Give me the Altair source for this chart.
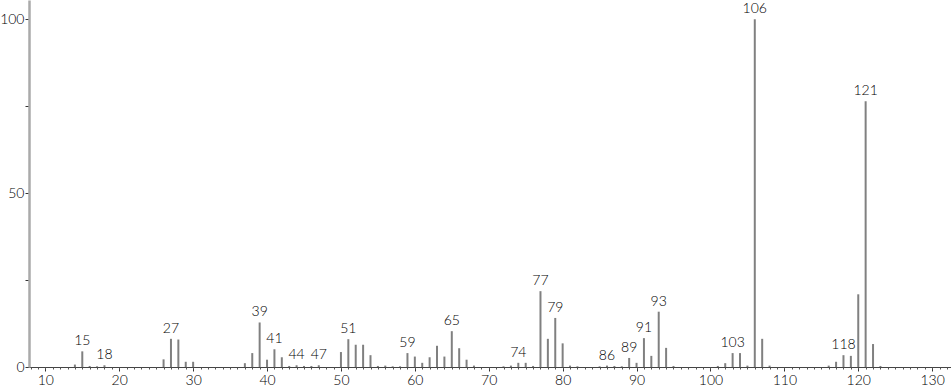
import altair as alt
import pandas as pd

mz = [14, 15, 16, 17, 18, 26, 27, 28, 29, 30, 37, 38, 39, 40, 41, 42, 43, 44, 45, 46, 47,
      50, 51, 52, 53, 54, 55, 56, 57, 58, 59, 60, 61, 62, 63, 64, 65, 66, 67, 68,
      72, 73, 74, 75, 76, 77, 78, 79, 80, 81, 82, 85, 86, 87, 88, 89, 90, 91, 92, 93, 94, 95,
      101, 102, 103, 104, 105, 106, 107, 108, 116, 117, 118, 119, 120, 121, 122, 123]
intensity = [0.7, 4.5, 0.3, 0.2, 0.5, 2.2, 8.1, 7.9, 1.5, 1.5, 1.1, 4.0, 12.8, 2.1, 5.1, 2.8, 0.3, 0.5, 0.3, 0.3, 0.5,
             4.3, 8.0, 6.4, 6.4, 3.4, 0.3, 0.4, 0.2, 0.2, 4.0, 3.0, 1.2, 2.8, 6.1, 3.0, 10.3, 5.4, 2.1, 0.4,
             0.2, 0.4, 1.2, 1.2, 0.3, 21.8, 8.1, 14.1, 6.8, 0.4, 0.2, 0.2, 0.4, 0.3, 0.2, 2.6, 1.2, 8.3, 3.2, 15.9, 5.5, 0.3,
             0.3, 1.1, 4.0, 4.0, 0.4, 100.0, 8.1, 0.4, 0.4, 1.5, 3.4, 3.2, 20.9, 76.4, 6.6, 0.3]
labeled = [15, 18, 27, 39, 41, 44, 47, 51, 59, 65, 74, 77, 79, 86, 89, 91, 93, 103, 106, 118, 121]
major_ticks = list(range(10, 131, 10))
minor_ticks = list(range(8, 133, 1))
y_ticks = [0, 25, 50, 75, 100]

df = pd.DataFrame({"mz": mz, "intensity": intensity})
df["label"] = [str(m) if m in labeled else "" for m in mz]
minor_df = pd.DataFrame({"mz": minor_ticks})

FONT = "Lato"
xscale = alt.Scale(domain=[7.79, 132.55], nice=False, zero=False)
yscale = alt.Scale(domain=[0, 105.5], nice=False, zero=True)
yaxis = alt.Axis(values=y_ticks, title=None, grid=False, tickSize=4,
                 labelExpr="datum.value % 50 == 0 ? datum.label : ''",
                 tickColor="#333", domainColor="#aaaaaa", domainWidth=2.5,
                 labelFont=FONT, labelFontSize=14, labelFontWeight=300,
                 labelColor="#000", labelPadding=1)

bars = alt.Chart(df).mark_rule(color="#808080", strokeWidth=2).encode(
    x=alt.X("mz:Q", scale=xscale,
            axis=alt.Axis(values=major_ticks, title=None, grid=False, tickSize=4,
                          orient="bottom",
                          tickColor="#333", domainColor="#444", labelFont=FONT,
                          labelFontSize=14, labelFontWeight=300, labelColor="#000",
                          labelPadding=2, labelFlush=False, domainWidth=1)),
    y=alt.Y("intensity:Q", scale=yscale, axis=yaxis),
    y2=alt.datum(0),
)

labels = alt.Chart(df).transform_filter("datum.label != ''").mark_text(
    font=FONT, fontSize=14, fontWeight=300, color="#000", baseline="bottom", dy=-3
).encode(
    x=alt.X("mz:Q", scale=xscale, axis=None),
    y=alt.Y("intensity:Q", scale=yscale, axis=yaxis),
    text="label:N",
)

minor = alt.Chart(minor_df).mark_point(opacity=0).encode(
    x=alt.X("mz:Q", scale=xscale,
            axis=alt.Axis(values=minor_ticks, labels=False, title=None, grid=False,
                          orient="bottom",
                          tickSize=2, tickColor="#555", domain=False)),
    y=alt.datum(0),
)

chart = alt.layer(bars, labels, minor).resolve_axis(x="independent").properties(
    width=922, height=367,
    autosize=alt.AutoSizeParams(type="none"),
    padding={"left": 29, "top": 0, "right": 0, "bottom": 22},
).configure_view(stroke=None)

chart.save("out.html", embed_options={"renderer": "svg", "actions": False})
